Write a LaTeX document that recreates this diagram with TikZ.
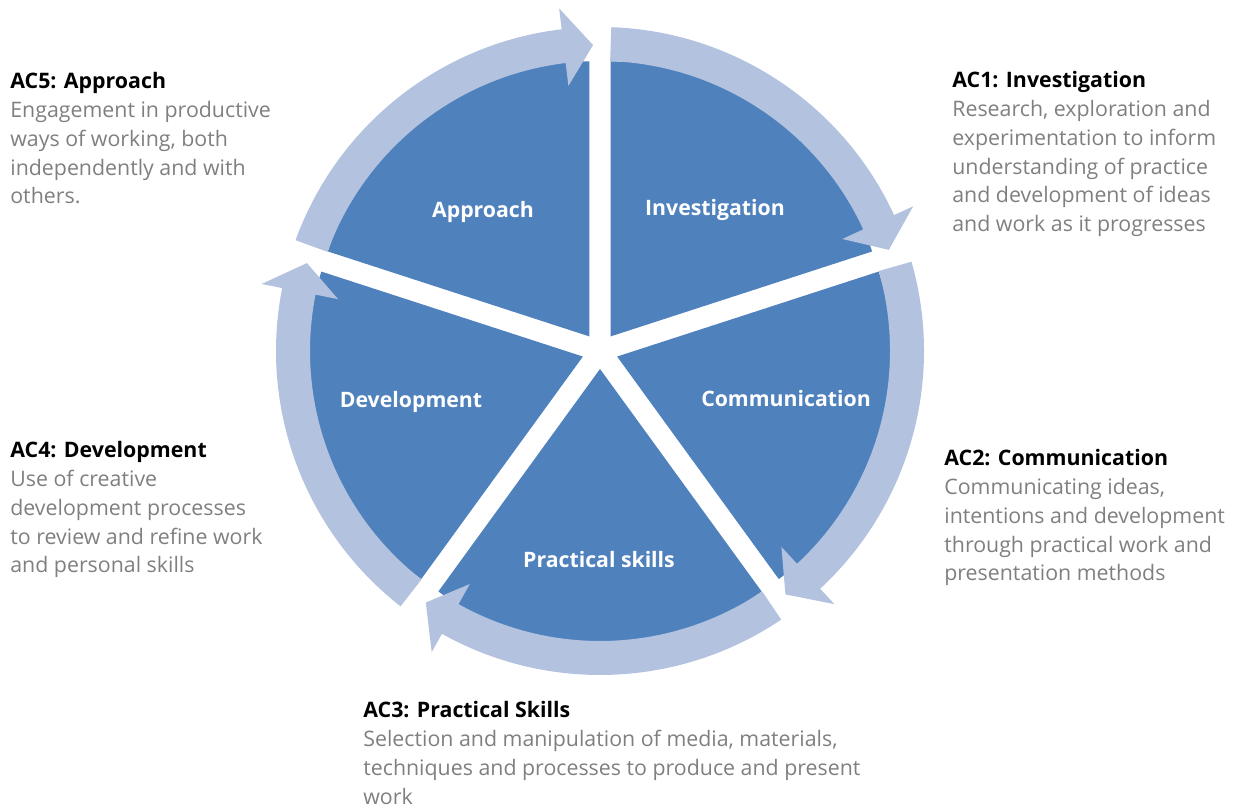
\documentclass[tikz,border=0pt]{standalone}
\usepackage{fontspec}
\setmainfont{Open Sans}
\usetikzlibrary{calc}
\definecolor{piefill}{HTML}{4F81BD}
\definecolor{ringfill}{HTML}{B3C3DF}
\definecolor{bodytext}{HTML}{7F7F7F}
\tikzset{
  sector/.style={fill=piefill},
  ring/.style={fill=ringfill},
  seglab/.style={text=white, font=\bfseries\fontsize{12.1}{16}\selectfont},
  desc/.style={text=bodytext, align=left, anchor=north west, inner sep=0pt,
    font=\fontsize{12.15}{16.4}\selectfont},
}
% one exploded slice, #1 = bisector angle
\newcommand\pieslice[1]{%
  \fill[sector] ($(C)+(#1:18)$) -- ++({#1+36}:275)
    arc[start angle={#1+36}, end angle={#1-36}, radius=275] -- cycle;}
% one curved arrow of the ring, from gap #1 clockwise to gap #2
\newcommand\cyclearrow[2]{%
  \fill[ring] ($(C)+({#1-2}:324)$)
    arc[start angle={#1-2}, end angle={#2+6.8}, radius=324]
    -- ($(C)+({#2+6.8}:345)$) -- ($(C)+({#2+1.3}:306)$)
    -- ($(C)+({#2+6.8}:267)$) -- ($(C)+({#2+6.8}:290)$)
    arc[start angle={#2+6.8}, end angle={#1-2}, radius=290] -- cycle;}
\newcommand\ttl[1]{\textcolor{black}{\bfseries #1}}

\begin{document}
\begin{tikzpicture}[x=0.02cm, y=0.02cm]
  \useasboundingbox (0,0) rectangle (1236,807);
  \coordinate (C) at (600,456);

  % pie
  \pieslice{54}
  \pieslice{-18}
  \pieslice{-90}
  \pieslice{198}
  \pieslice{126}

  % arrows round it
  \cyclearrow{90}{18}
  \cyclearrow{18}{-54}
  \cyclearrow{306}{234}
  \cyclearrow{234}{162}
  \cyclearrow{162}{90}

  \node[seglab] (inv) at (715,597) {Investigation};
  \node[seglab] (com) at (786,408) {Communication};
  \node[seglab] (pra) at (599,247) {Practical skills};
  \node[seglab] (dev) at (411,405) {Development};
  \node[seglab] (app) at (483,595) {Approach};

  \node[desc] (ac1) at (952,736) {\ttl{AC1: Investigation}\\
    Research, exploration and\\ experimentation to inform\\
    understanding of practice\\ and development of ideas\\
    and work as it progresses};
  \node[desc] (ac2) at (944,358) {\ttl{AC2: Communication}\\
    Communicating ideas,\\ intentions and development\\
    through practical work and\\ presentation methods};
  \node[desc] (ac3) at (363,106) {\ttl{AC3: Practical Skills}\\
    Selection and manipulation of media, materials,\\
    techniques and processes to produce and present\\ work};
  \node[desc] (ac4) at (10,366) {\ttl{AC4: Development}\\
    Use of creative\\ development processes\\
    to review and refine work\\ and personal skills};
  \node[desc] (ac5) at (10,735) {\ttl{AC5: Approach}\\
    Engagement in productive\\ ways of working, both\\
    independently and with\\ others.};
\end{tikzpicture}
\end{document}
